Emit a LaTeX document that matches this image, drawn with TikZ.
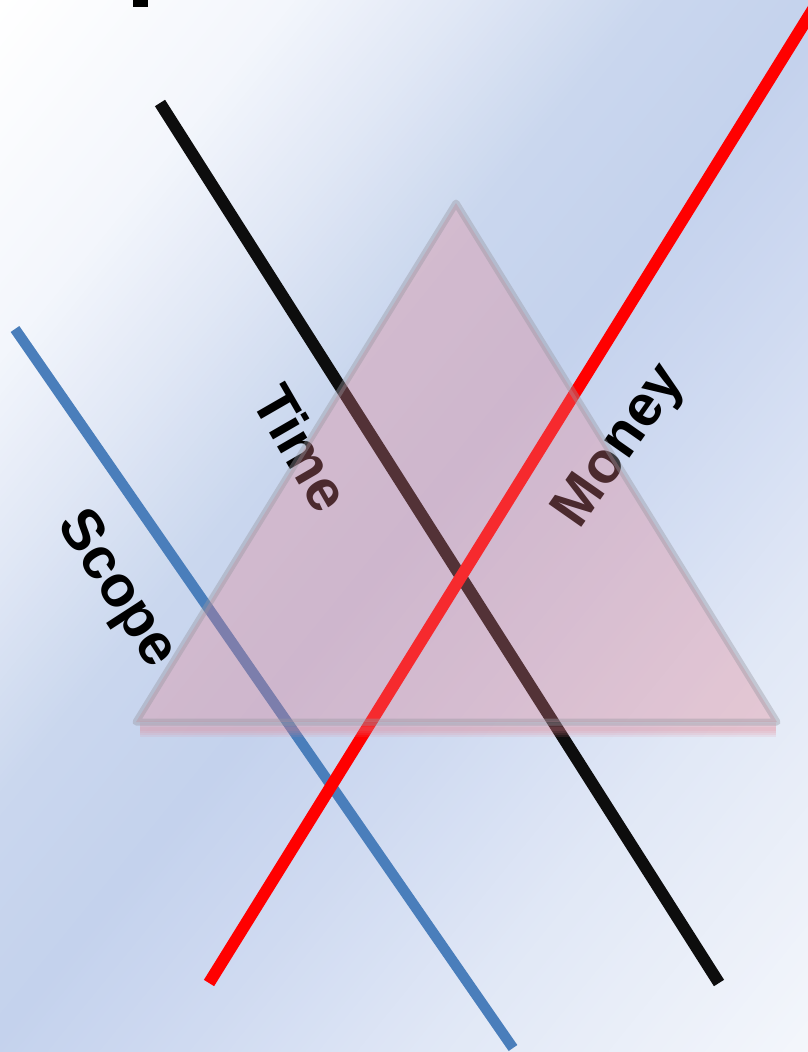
\documentclass[tikz,border=0pt]{standalone}
\usepackage{fontspec}
\setmainfont{Liberation Sans}
\definecolor{bgA}{RGB}{255,255,255}
\definecolor{bgB}{RGB}{243,246,252}
\definecolor{bgC}{RGB}{224,231,245}
\definecolor{bgD}{RGB}{202,215,238}
\definecolor{bgE}{RGB}{196,210,237}
\definecolor{bgF}{RGB}{207,218,241}
\definecolor{bgG}{RGB}{225,232,246}
\definecolor{bgH}{RGB}{246,248,252}
\definecolor{lineBlue}{RGB}{74,126,187}
\definecolor{lineRed}{RGB}{255,0,0}
\definecolor{lineBlack}{RGB}{13,13,13}
\definecolor{triPink}{RGB}{228,128,142}
\definecolor{triEdge}{RGB}{150,150,160}
\newcommand{\bgseg}[4]{%
  \pgfmathtruncatemacro{\bgN}{(#2-#1)/5}%
  \foreach \i in {0,...,\bgN}{%
    \pgfmathsetmacro{\bgT}{#1+5*\i}%
    \pgfmathtruncatemacro{\bgP}{100*\i/\bgN}%
    \fill[#4!\bgP!#3]
      ({0.776*\bgT+0.631*700},{0.631*\bgT-0.776*700}) --
      ({0.776*(\bgT+6)+0.631*700},{0.631*(\bgT+6)-0.776*700}) --
      ({0.776*(\bgT+6)-0.631*1100},{0.631*(\bgT+6)+0.776*1100}) --
      ({0.776*\bgT-0.631*1100},{0.631*\bgT+0.776*1100}) -- cycle;
  }}
\tikzset{
  bar/.style={line width=12pt, line cap=butt},
  lbl/.style={font=\fontsize{58}{60}\selectfont\bfseries, inner sep=0pt, text=black},
  tri/.style={fill=triPink, fill opacity=0.33},
  triborder/.style={draw=triEdge, line width=7pt, draw opacity=0.4, line join=round},
  glow/.style={draw=triPink, draw opacity=0.12}
}
\begin{document}
\begin{tikzpicture}[x=1pt,y=-1pt]
\useasboundingbox (0,0) rectangle (808,1052);
\begin{scope}
  \clip (0,0) rectangle (808,1052);
  \fill[white] (0,0) rectangle (808,1052);
  \bgseg{0}{220}{bgA}{bgB}
  \bgseg{220}{360}{bgB}{bgC}
  \bgseg{360}{500}{bgC}{bgD}
  \bgseg{500}{650}{bgD}{bgE}
  \bgseg{650}{800}{bgE}{bgF}
  \bgseg{800}{1000}{bgF}{bgG}
  \bgseg{1000}{1320}{bgG}{bgH}
  % fragment of a cropped title at the top edge
  \fill[black] (133,-2) rectangle (148,7);
  % coordinates of the three lines
  \coordinate (scopeA) at (15,329);
  \coordinate (scopeB) at (513,1048);
  \coordinate (timeA) at (160,103);
  \coordinate (timeB) at (719,983);
  \coordinate (moneyA) at (820,-2);
  \coordinate (moneyB) at (209,983);
  \draw[bar, lineBlue, line width=10.5pt] (scopeA) -- (scopeB);
  \draw[bar, lineBlack] (timeA) -- (timeB);
  \draw[bar, lineRed] (moneyA) -- (moneyB);
  % labels
  \node[lbl, rotate=-60] (timelbl) at (302,448) {Time};
  \node[lbl, rotate=55] (moneylbl) at (621,447) {Money};
  \node[lbl, rotate=-57] (scopelbl) at (116,590) {Scope};
  % triangle
  \coordinate (apex) at (456,203);
  \coordinate (bl) at (136,722);
  \coordinate (br) at (777,722);
  \coordinate (glowL) at (140,729);
  \coordinate (glowR) at (776,729);
  \foreach \w in {4,8,12,16} {\draw[glow, line width=\w pt] (glowL) -- (glowR);}
  \fill[tri] (apex) -- (bl) -- (br) -- cycle;
  \draw[triborder] (apex) -- (bl) -- (br) -- cycle;
\end{scope}
\end{tikzpicture}
\end{document}
